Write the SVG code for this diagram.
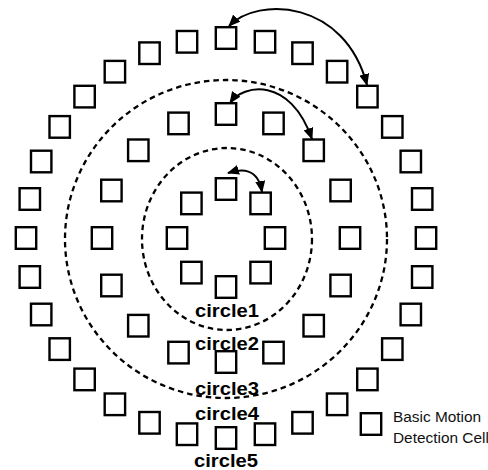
<svg xmlns="http://www.w3.org/2000/svg" width="488" height="470" viewBox="0 0 488 470">
<style>
.cell{fill:#fff;stroke:#000;stroke-width:2.4}
.ring{fill:none;stroke:#000;stroke-width:2.3;stroke-dasharray:5.5 4}
.arrow{fill:none;stroke:#000;stroke-width:2;marker-start:url(#ah);marker-end:url(#ah)}
.lbl{font-family:"Liberation Sans",Arial,sans-serif;font-weight:bold;font-size:19px;fill:#000}
.legend{font-family:"Liberation Sans",Arial,sans-serif;font-size:15.4px;fill:#111}
</style>
<defs>
<marker id="ah" viewBox="0 0 12 10" refX="11" refY="5" markerWidth="12" markerHeight="10" markerUnits="userSpaceOnUse" orient="auto-start-reverse">
<path d="M0,0 L12,5 L0,10 Z" fill="#000"/>
</marker>
<rect id="sq" class="cell" x="-10.2" y="-10.8" width="20.4" height="21.6"/>
</defs>
<rect width="488" height="470" fill="#fff"/>
<g id="dashed-circles">
<ellipse id="circle-inner" class="ring" cx="227" cy="239" rx="85" ry="91"/>
<ellipse id="circle-middle" class="ring" cx="226" cy="239" rx="161" ry="159"/>
</g>
<g id="ring1">
<g id="r1-0"><use href="#sq" x="226" y="189"/></g>
<g id="r1-1"><use href="#sq" x="260.6" y="203.4"/></g>
<g id="r1-2"><use href="#sq" x="275" y="238"/></g>
<g id="r1-3"><use href="#sq" x="260.6" y="272.6"/></g>
<g id="r1-4"><use href="#sq" x="226" y="287"/></g>
<g id="r1-5"><use href="#sq" x="191.4" y="272.6"/></g>
<g id="r1-6"><use href="#sq" x="177" y="238"/></g>
<g id="r1-7"><use href="#sq" x="191.4" y="203.4"/></g>
</g>
<g id="ring2">
<g id="r2-0"><use href="#sq" x="226" y="114"/></g>
<g id="r2-1"><use href="#sq" x="273.5" y="123.4"/></g>
<g id="r2-2"><use href="#sq" x="313.7" y="150.3"/></g>
<g id="r2-3"><use href="#sq" x="340.6" y="190.5"/></g>
<g id="r2-4"><use href="#sq" x="350" y="238"/></g>
<g id="r2-5"><use href="#sq" x="340.6" y="285.5"/></g>
<g id="r2-6"><use href="#sq" x="313.7" y="325.7"/></g>
<g id="r2-7"><use href="#sq" x="273.5" y="352.6"/></g>
<g id="r2-8"><use href="#sq" x="226" y="362"/></g>
<g id="r2-9"><use href="#sq" x="178.5" y="352.6"/></g>
<g id="r2-10"><use href="#sq" x="138.3" y="325.7"/></g>
<g id="r2-11"><use href="#sq" x="111.4" y="285.5"/></g>
<g id="r2-12"><use href="#sq" x="102" y="238"/></g>
<g id="r2-13"><use href="#sq" x="111.4" y="190.5"/></g>
<g id="r2-14"><use href="#sq" x="138.3" y="150.3"/></g>
<g id="r2-15"><use href="#sq" x="178.5" y="123.4"/></g>
</g>
<g id="ring3">
<g id="r3-0"><use href="#sq" x="226" y="38"/></g>
<g id="r3-1"><use href="#sq" x="265" y="41.8"/></g>
<g id="r3-2"><use href="#sq" x="302.5" y="53.2"/></g>
<g id="r3-3"><use href="#sq" x="337.1" y="71.7"/></g>
<g id="r3-4"><use href="#sq" x="367.4" y="96.6"/></g>
<g id="r3-5"><use href="#sq" x="392.3" y="126.9"/></g>
<g id="r3-6"><use href="#sq" x="410.8" y="161.5"/></g>
<g id="r3-7"><use href="#sq" x="422.2" y="199"/></g>
<g id="r3-8"><use href="#sq" x="426" y="238"/></g>
<g id="r3-9"><use href="#sq" x="422.2" y="277"/></g>
<g id="r3-10"><use href="#sq" x="410.8" y="314.5"/></g>
<g id="r3-11"><use href="#sq" x="392.3" y="349.1"/></g>
<g id="r3-12"><use href="#sq" x="367.4" y="379.4"/></g>
<g id="r3-13"><use href="#sq" x="337.1" y="404.3"/></g>
<g id="r3-14"><use href="#sq" x="302.5" y="422.8"/></g>
<g id="r3-15"><use href="#sq" x="265" y="434.2"/></g>
<g id="r3-16"><use href="#sq" x="226" y="438"/></g>
<g id="r3-17"><use href="#sq" x="187" y="434.2"/></g>
<g id="r3-18"><use href="#sq" x="149.5" y="422.8"/></g>
<g id="r3-19"><use href="#sq" x="114.9" y="404.3"/></g>
<g id="r3-20"><use href="#sq" x="84.6" y="379.4"/></g>
<g id="r3-21"><use href="#sq" x="59.7" y="349.1"/></g>
<g id="r3-22"><use href="#sq" x="41.2" y="314.5"/></g>
<g id="r3-23"><use href="#sq" x="29.8" y="277"/></g>
<g id="r3-24"><use href="#sq" x="26" y="238"/></g>
<g id="r3-25"><use href="#sq" x="29.8" y="199"/></g>
<g id="r3-26"><use href="#sq" x="41.2" y="161.5"/></g>
<g id="r3-27"><use href="#sq" x="59.7" y="126.9"/></g>
<g id="r3-28"><use href="#sq" x="84.6" y="96.6"/></g>
<g id="r3-29"><use href="#sq" x="114.9" y="71.7"/></g>
<g id="r3-30"><use href="#sq" x="149.5" y="53.2"/></g>
<g id="r3-31"><use href="#sq" x="187" y="41.8"/></g>
</g>
<g id="connectors">
<path class="arrow" d="M229,26 C258,-4 345,0 367,85"/>
<path class="arrow" d="M230,103 C243,84 290,76 312,139"/>
<path class="arrow" d="M228,173 C241,169 258,167 262,192"/>
</g>
<g id="labels">
<text class="lbl" x="195" y="316.5" textLength="64" lengthAdjust="spacingAndGlyphs">circle1</text>
<text class="lbl" x="195" y="350" textLength="64" lengthAdjust="spacingAndGlyphs">circle2</text>
<text class="lbl" x="195" y="395" textLength="64" lengthAdjust="spacingAndGlyphs">circle3</text>
<text class="lbl" x="195" y="420" textLength="64" lengthAdjust="spacingAndGlyphs">circle4</text>
<text class="lbl" x="194" y="467" textLength="64" lengthAdjust="spacingAndGlyphs">circle5</text>
</g>
<g id="legend">
<use href="#sq" x="371" y="424"/>
<text class="legend" x="393" y="422">Basic Motion</text>
<text class="legend" x="393" y="443">Detection Cell</text>
</g>
</svg>
